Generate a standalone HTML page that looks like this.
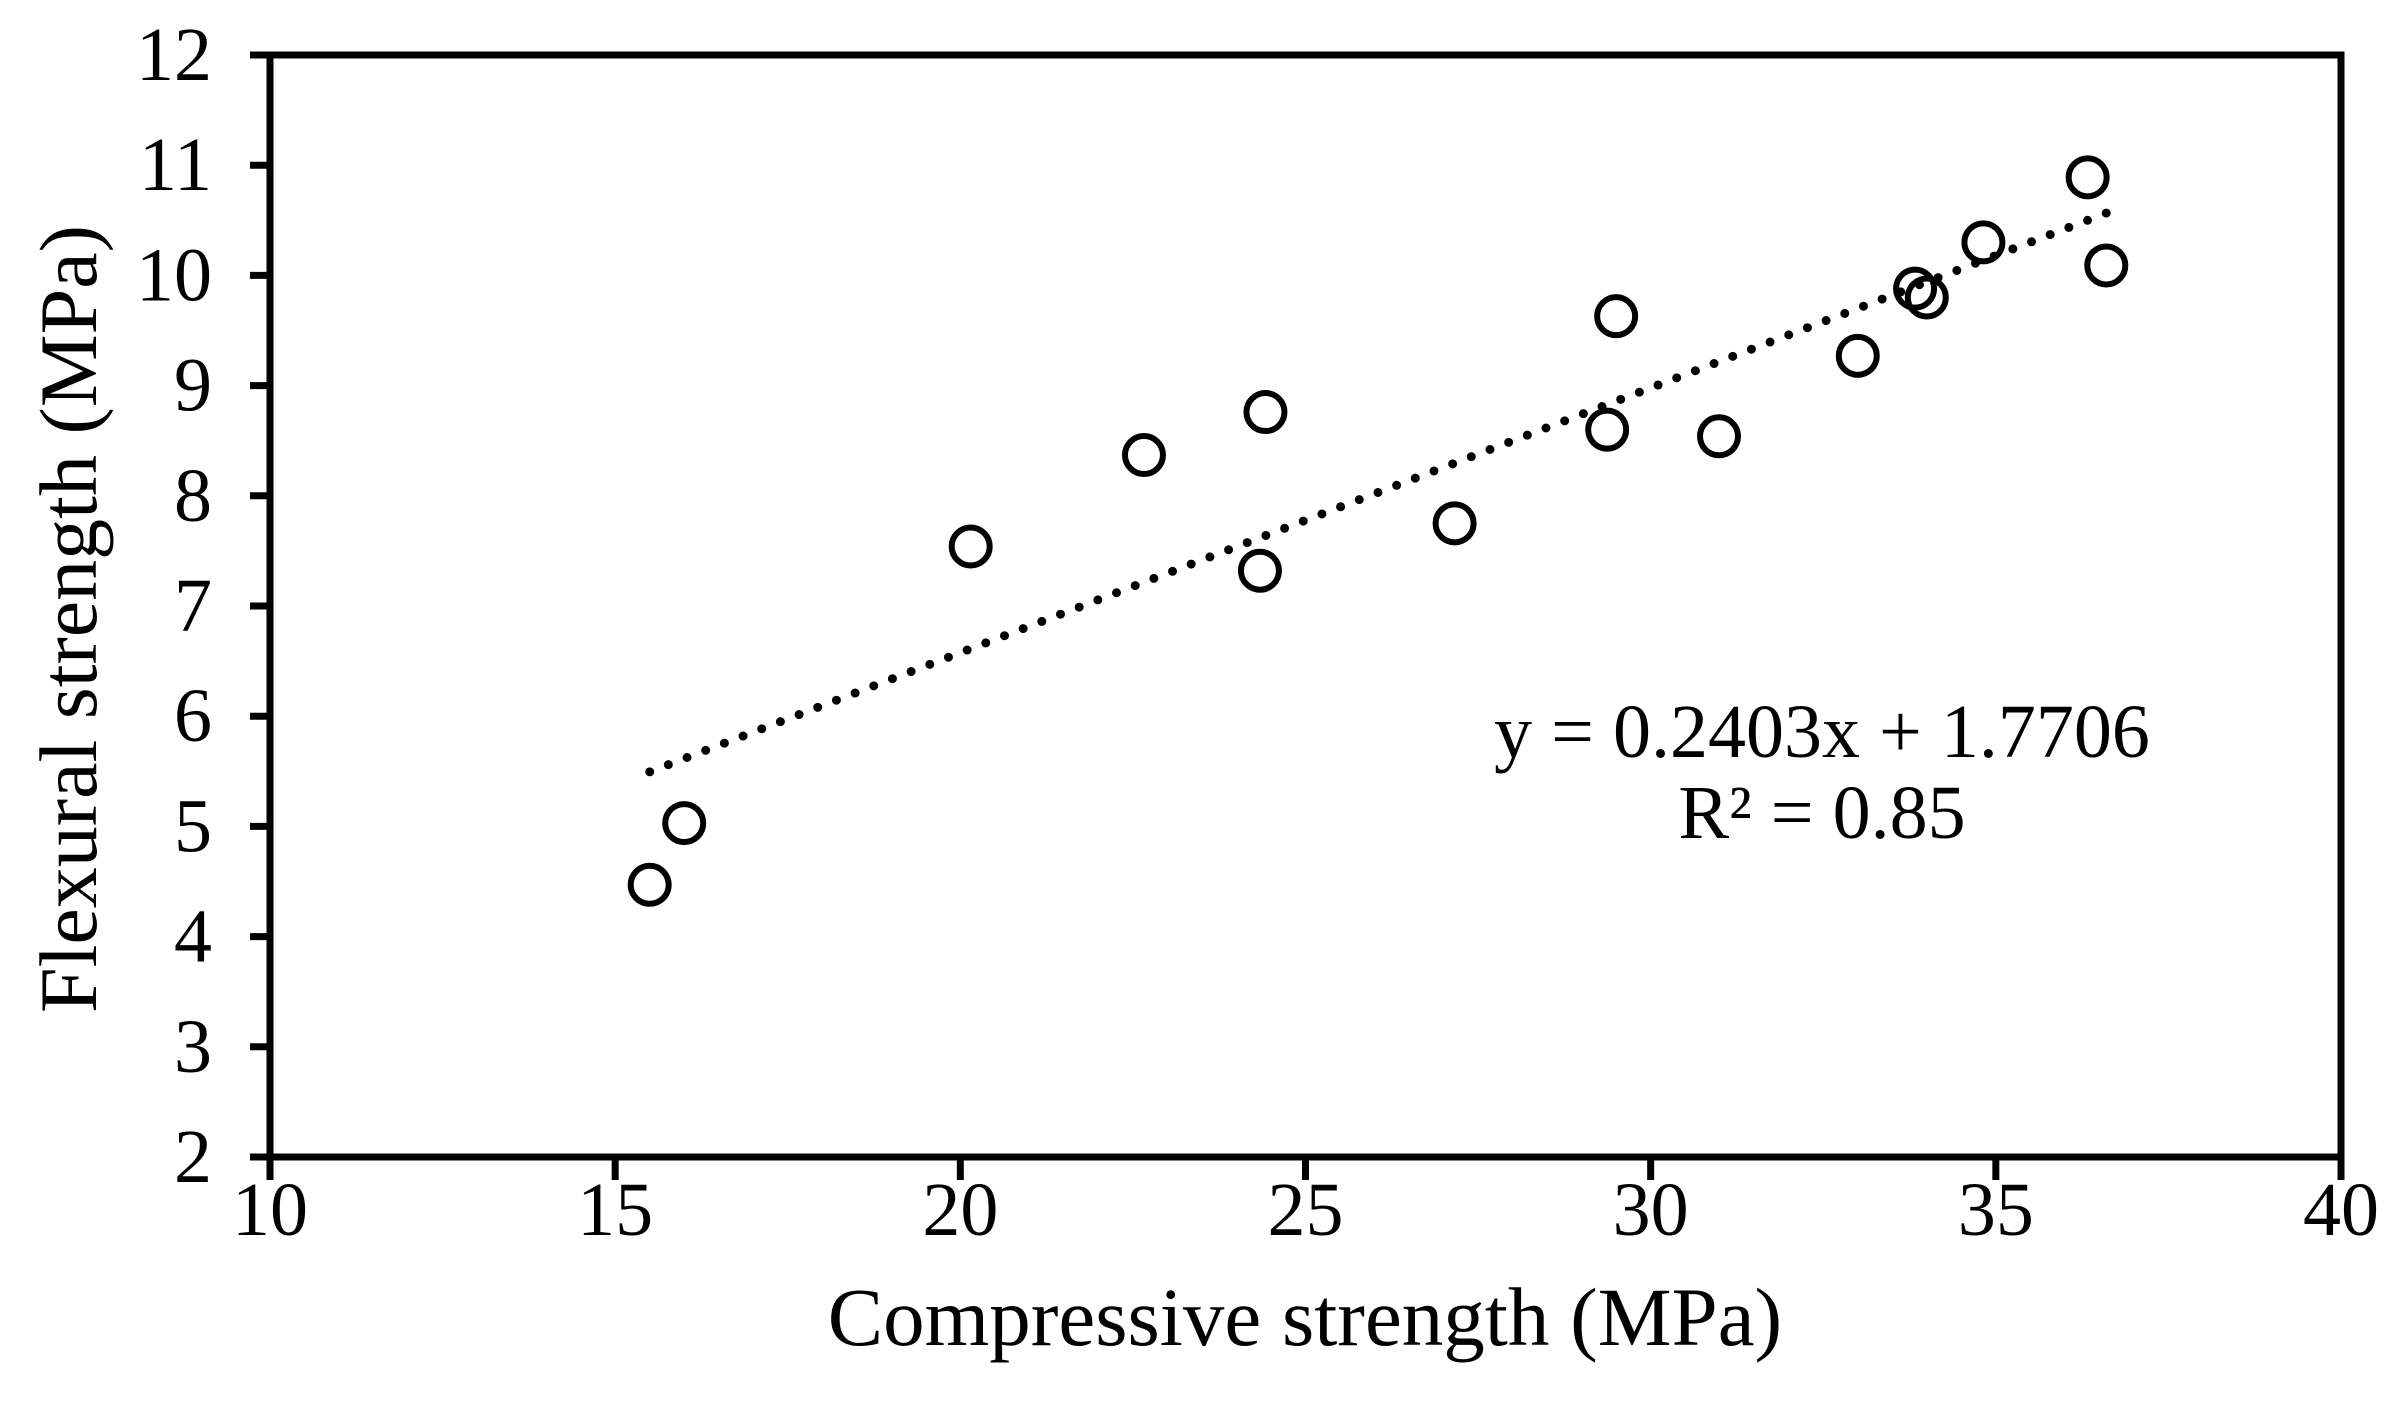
<!DOCTYPE html>
<html><head><meta charset="utf-8"><style>
html,body{margin:0;padding:0;background:#fff;}
svg{display:block;font-family:"Liberation Serif",serif;}
</style></head><body>
<svg id="chart" width="2391" height="1426" viewBox="0 0 2391 1426" xmlns="http://www.w3.org/2000/svg">
<g id="g"></g>
</svg>
<script>
const xVals=[15.5,16.0,20.15,22.66,24.34,24.42,27.16,29.37,29.5,30.99,33.0,33.83,34.0,34.82,36.33,36.6];
const yVals=[4.47,5.03,7.54,8.37,7.32,8.76,7.75,8.6,9.63,8.54,9.27,9.88,9.8,10.3,10.89,10.09];
const xTicks=[10,15,20,25,30,35,40];
const yTicks=[2,3,4,5,6,7,8,9,10,11,12];
const slope=0.2403, intercept=1.7706;
const fitRange=[15.5,36.6];

const L=270,R=2341,T=55,B=1157;
const sx=v=>L+(v-10)/30*(R-L);
const sy=v=>B-(v-2)/10*(B-T);
const NS="http://www.w3.org/2000/svg";
const g=document.getElementById('g');
function mk(t,a,txt){const e=document.createElementNS(NS,t);for(const k in a)e.setAttribute(k,a[k]);if(txt!==undefined)e.textContent=txt;g.appendChild(e);return e;}

let f=mk('rect',{x:L,y:T,width:R-L,height:B-T,fill:'none',stroke:'#000','stroke-width':7});



yTicks.forEach(v=>{
  const y=sy(v);
  let t=mk('line',{x1:L-20,x2:L,y1:y,y2:y,stroke:'#000','stroke-width':7});
  
  
  let l=mk('text',{x:212,y:y+25,'text-anchor':'end','font-size':76},String(v));
  
  
});
xTicks.forEach(v=>{
  const x=sx(v);
  let t=mk('line',{x1:x,x2:x,y1:B,y2:B+23,stroke:'#000','stroke-width':7});
  
  
  let l=mk('text',{x:x,y:1235,'text-anchor':'middle','font-size':76},String(v));
  
  
});

let tl=mk('line',{x1:sx(fitRange[0]),y1:sy(slope*fitRange[0]+intercept),x2:sx(fitRange[1]),y2:sy(slope*fitRange[1]+intercept),stroke:'#000','stroke-width':9,'stroke-dasharray':'0 20','stroke-linecap':'round'});



xVals.forEach((xv,i)=>{
  let c=mk('circle',{cx:sx(xv),cy:sy(yVals[i]),r:19,fill:'none',stroke:'#000','stroke-width':6});
  
  
});

let e1=mk('text',{x:1822,y:757,'text-anchor':'middle','font-size':76},'y = 0.2403x + 1.7706');


let e2=mk('text',{x:1822,y:838,'text-anchor':'middle','font-size':76},'R² = 0.85');



let xt=mk('text',{x:1305,y:1345,'text-anchor':'middle','font-size':83},'Compressive strength (MPa)');


let yt=mk('text',{x:0,y:0,'text-anchor':'middle','font-size':82,transform:'translate(96,619) rotate(-90)'},'Flexural strength (MPa)');


</script>
</body></html>
